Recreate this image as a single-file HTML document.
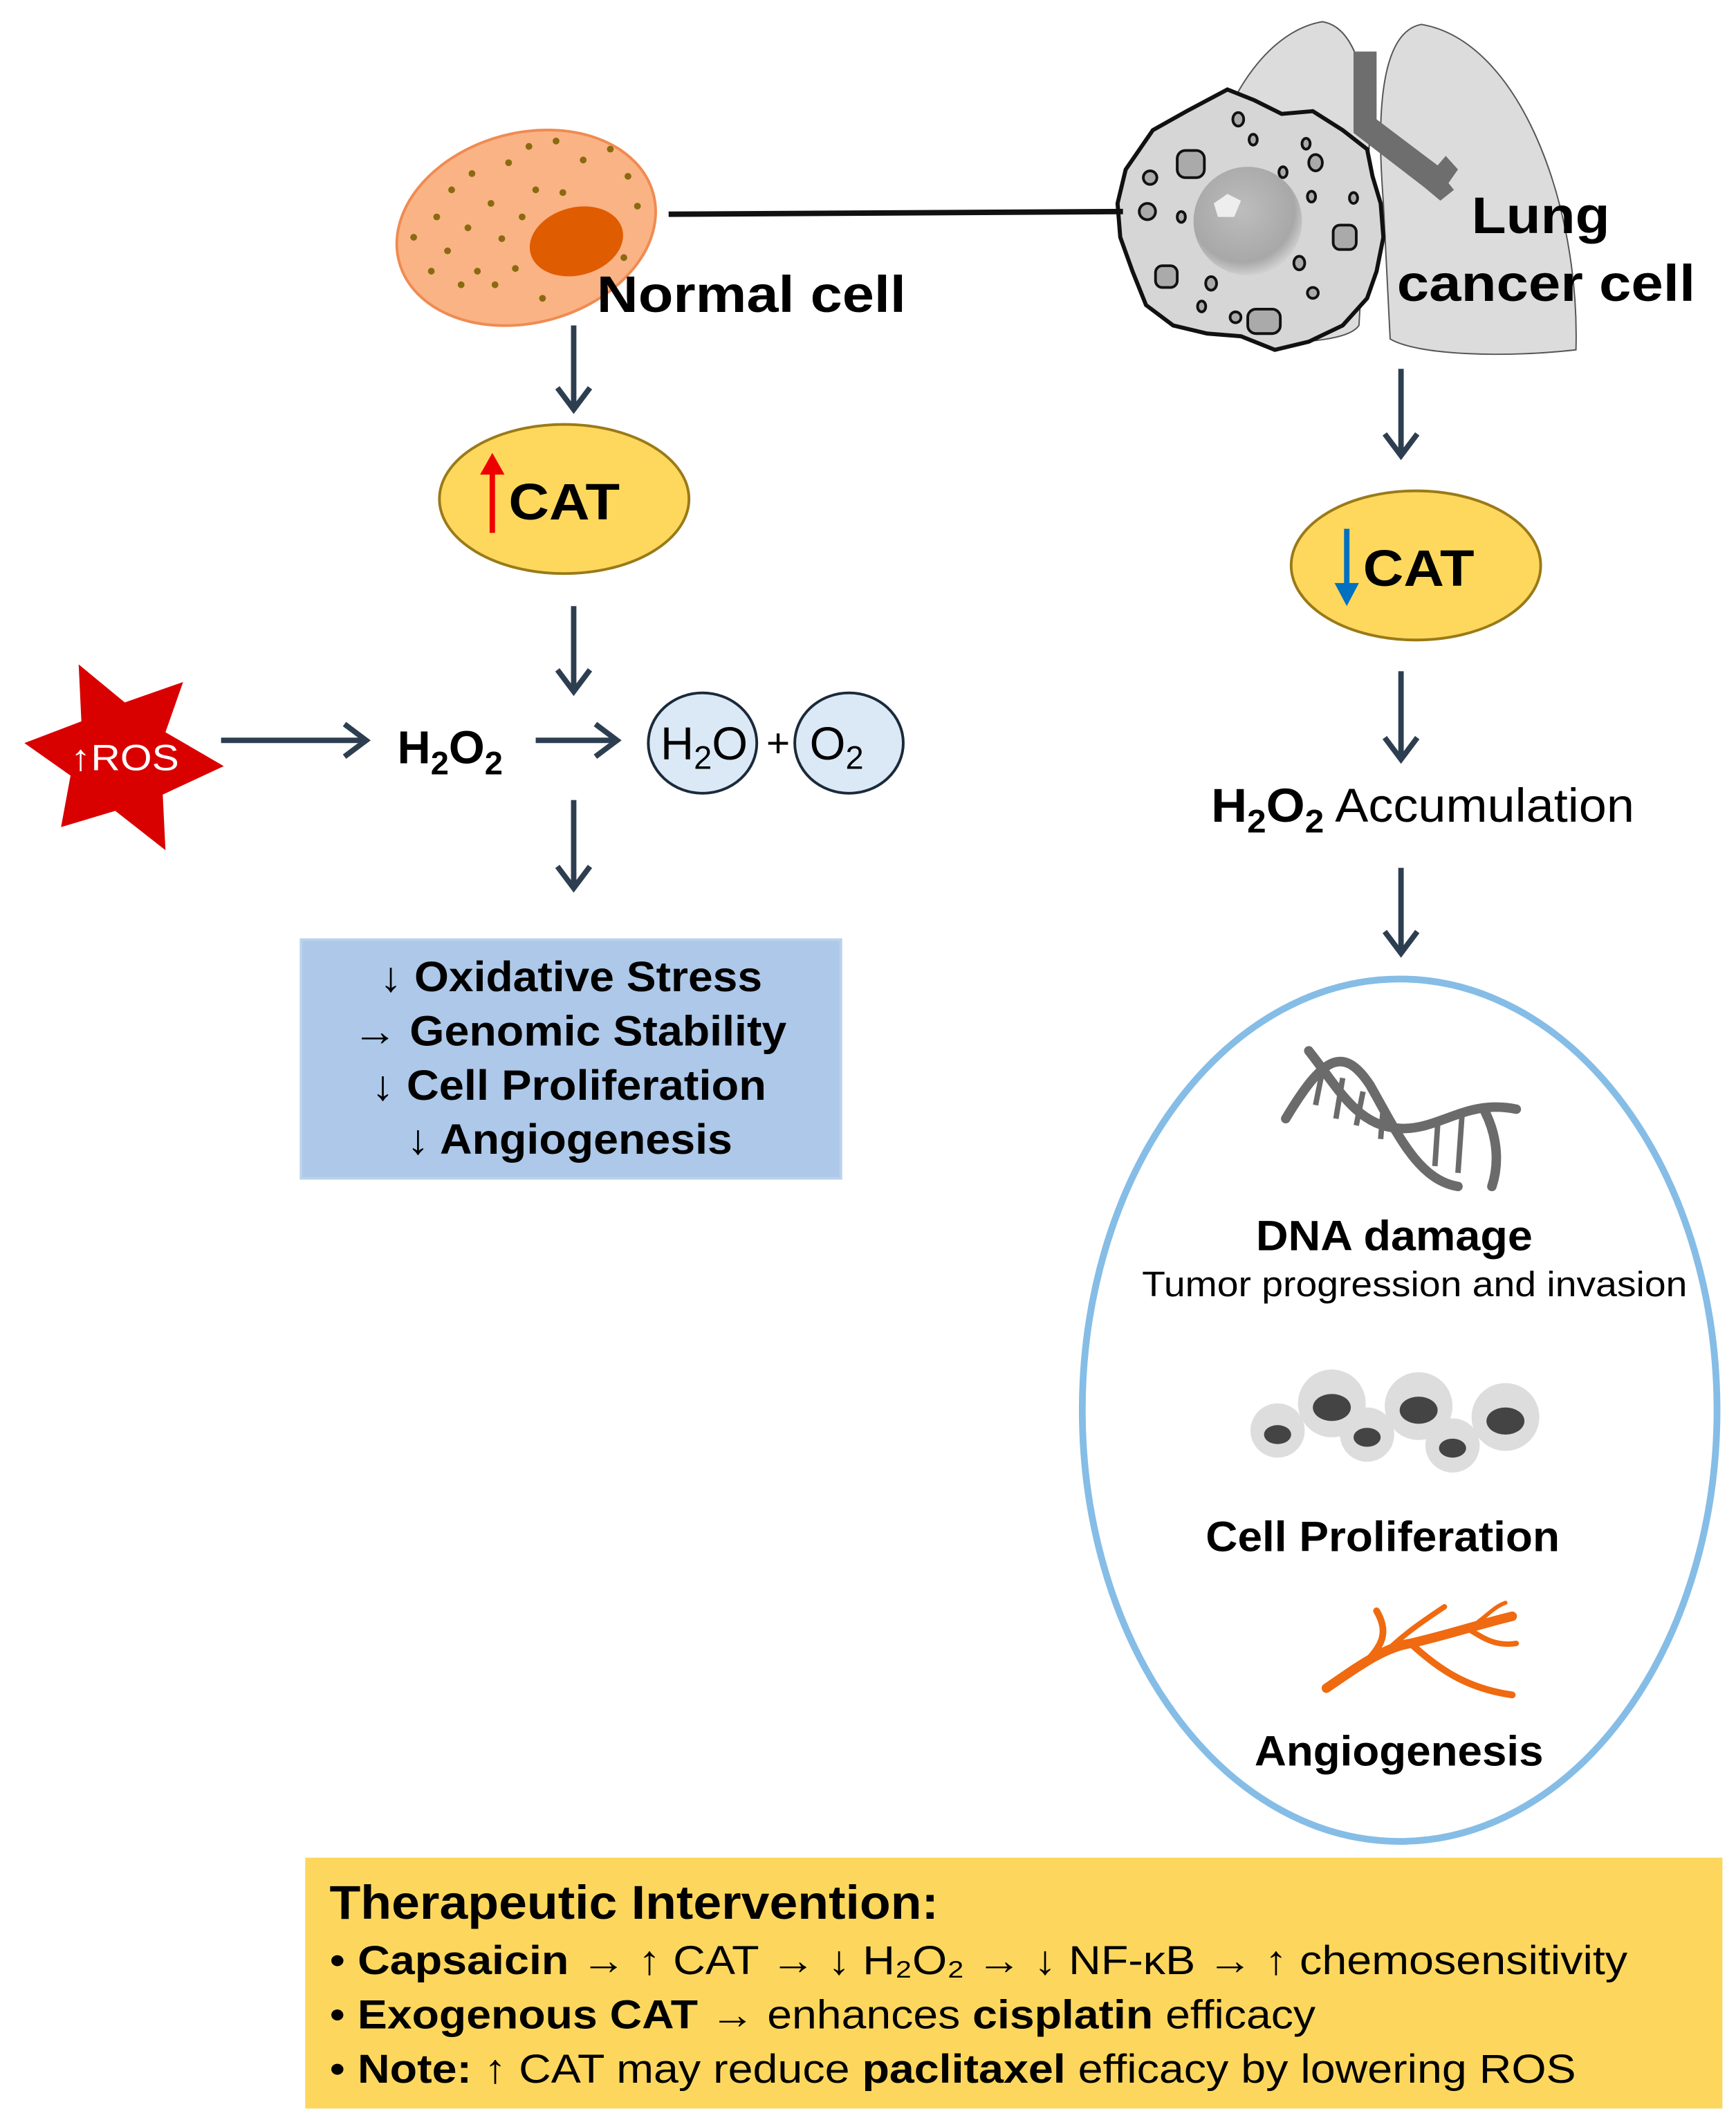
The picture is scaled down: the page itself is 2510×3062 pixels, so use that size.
<!DOCTYPE html>
<html><head><meta charset="utf-8"><style>
html,body{margin:0;padding:0;background:#fff}
svg{display:block}
text{font-family:"Liberation Sans",Arial,sans-serif}
</style></head><body>
<svg width="2510" height="3062" viewBox="0 0 1280 1562" preserveAspectRatio="none" xmlns="http://www.w3.org/2000/svg">
<defs>
<radialGradient id="nuc" cx="0.45" cy="0.4" r="0.6"><stop offset="0" stop-color="#bdbdbd"/><stop offset="0.8" stop-color="#a8a8a8"/><stop offset="1" stop-color="#cfcfcf"/></radialGradient>
</defs>
<g stroke="#2d3e50" stroke-width="4" fill="none">
<line x1="423" y1="240" x2="423" y2="302"/><path d="M411,286 L423,302 L435,286"/>
<line x1="423" y1="447" x2="423" y2="510"/><path d="M411,494 L423,510 L435,494"/>
<line x1="423" y1="590" x2="423" y2="655"/><path d="M411,639 L423,655 L435,639"/>
<line x1="163" y1="546" x2="268" y2="546"/><path d="M254,534 L270,546 L254,558"/>
<line x1="395" y1="546" x2="453" y2="546"/><path d="M439,534 L455,546 L439,558"/>
<line x1="1033" y1="272" x2="1033" y2="336"/><path d="M1021,320 L1033,336 L1045,320"/>
<line x1="1033" y1="495" x2="1033" y2="560"/><path d="M1021,544 L1033,560 L1045,544"/>
<line x1="1033" y1="640" x2="1033" y2="703"/><path d="M1021,687 L1033,703 L1045,687"/>
</g>
<!-- lungs -->
<path d="M975,16 C940,22 910,60 895,110 L875,235 C900,255 990,258 1002,240 L1010,100 C1008,60 1000,20 975,16Z" fill="#dcdcdc" stroke="#555" stroke-width="1"/>
<path d="M1048,18 C1010,25 1018,120 1020,150 L1025,250 C1045,262 1110,264 1162,258 C1165,150 1120,30 1048,18Z" fill="#dcdcdc" stroke="#555" stroke-width="1"/>
<path d="M998,38 L1015,38 L1015,88 L1060,122 L1066,115 L1075,125 L1068,135 L1072,140 L1062,148 L1050,138 L998,98Z" fill="#6e6e6e"/>
<!-- tumor -->
<path d="M850,96 L875,82 L905,66 L925,74 L945,84 L968,82 L990,96 L1008,110 L1012,130 L1018,150 L1020,175 L1015,200 L1008,220 L990,240 L965,252 L940,258 L915,248 L890,246 L865,240 L845,225 L835,200 L826,175 L824,150 L830,125 Z" fill="#d6d6d6" stroke="#111" stroke-width="3"/>
<ellipse cx="920" cy="163" rx="40" ry="40" fill="url(#nuc)"/>
<path d="M895,150 L905,143 L915,148 L910,160 L898,160Z" fill="#eee"/>
<g fill="#aaa" stroke="#111" stroke-width="2">
<rect x="868" y="111" width="20" height="20" rx="6"/><rect x="983" y="166" width="17" height="18" rx="5"/><rect x="920" y="228" width="24" height="18" rx="6"/><rect x="852" y="196" width="16" height="16" rx="5"/>
<ellipse cx="913" cy="88" rx="4" ry="5"/><ellipse cx="924" cy="103" rx="3" ry="4"/><ellipse cx="963" cy="106" rx="3" ry="4"/><ellipse cx="970" cy="120" rx="5" ry="6"/><ellipse cx="848" cy="131" rx="5" ry="5"/><ellipse cx="946" cy="127" rx="3" ry="4"/><ellipse cx="967" cy="145" rx="3" ry="4"/><ellipse cx="998" cy="146" rx="3" ry="4"/><ellipse cx="846" cy="156" rx="6" ry="6"/><ellipse cx="871" cy="160" rx="3" ry="4"/><ellipse cx="958" cy="194" rx="4" ry="5"/><ellipse cx="893" cy="209" rx="4" ry="5"/><ellipse cx="968" cy="216" rx="4" ry="4"/><ellipse cx="886" cy="226" rx="3" ry="4"/><ellipse cx="911" cy="234" rx="4" ry="4"/>
</g>
<line x1="493" y1="158" x2="828" y2="156" stroke="#111" stroke-width="4"/>
<text x="1085" y="172" font-size="38" font-weight="bold" textLength="102" lengthAdjust="spacingAndGlyphs">Lung</text>
<text x="1030" y="222" font-size="38" font-weight="bold" textLength="220" lengthAdjust="spacingAndGlyphs">cancer cell</text>
<!-- normal cell -->
<ellipse cx="388" cy="168" rx="97" ry="70" transform="rotate(-15 388 168)" fill="#fab384" stroke="#ef8b52" stroke-width="2"/>
<ellipse cx="425" cy="178" rx="35" ry="25" transform="rotate(-15 425 178)" fill="#e05c00"/>
<g fill="#8a6a10">
<circle cx="322" cy="160" r="2.5"/><circle cx="333" cy="140" r="2.5"/><circle cx="348" cy="128" r="2.5"/><circle cx="362" cy="150" r="2.5"/><circle cx="375" cy="120" r="2.5"/><circle cx="390" cy="108" r="2.5"/><circle cx="410" cy="104" r="2.5"/><circle cx="430" cy="118" r="2.5"/><circle cx="450" cy="110" r="2.5"/><circle cx="463" cy="130" r="2.5"/><circle cx="470" cy="152" r="2.5"/><circle cx="345" cy="168" r="2.5"/><circle cx="370" cy="176" r="2.5"/><circle cx="385" cy="160" r="2.5"/><circle cx="395" cy="140" r="2.5"/><circle cx="330" cy="185" r="2.5"/><circle cx="352" cy="200" r="2.5"/><circle cx="365" cy="210" r="2.5"/><circle cx="380" cy="198" r="2.5"/><circle cx="400" cy="220" r="2.5"/><circle cx="415" cy="142" r="2.5"/><circle cx="305" cy="175" r="2.5"/><circle cx="318" cy="200" r="2.5"/><circle cx="340" cy="210" r="2.5"/><circle cx="460" cy="190" r="2.5"/>
</g>
<text x="440" y="230" font-size="38" font-weight="bold" textLength="228" lengthAdjust="spacingAndGlyphs">Normal cell</text>
<!-- CAT up -->
<ellipse cx="416" cy="368" rx="92" ry="55" fill="#fdd85d" stroke="#9a7a18" stroke-width="2"/>
<line x1="363" y1="393" x2="363" y2="345" stroke="#e00" stroke-width="4"/><path d="M354,350 L363,334 L372,350Z" fill="#e00"/>
<text x="375" y="383" font-size="38" font-weight="bold" textLength="82" lengthAdjust="spacingAndGlyphs">CAT</text>
<!-- CAT down -->
<ellipse cx="1044" cy="417" rx="92" ry="55" fill="#fdd85d" stroke="#9a7a18" stroke-width="2"/>
<line x1="993" y1="390" x2="993" y2="435" stroke="#0070c0" stroke-width="4"/><path d="M984,430 L993,447 L1002,430Z" fill="#0070c0"/>
<text x="1005" y="432" font-size="38" font-weight="bold" textLength="82" lengthAdjust="spacingAndGlyphs">CAT</text>
<!-- ROS star -->
<polygon points="135,503 122,540 165,565 120,586 122,627 85,598 45,610 52,572 18,548 60,532 58,490 92,518" fill="#d90000"/>
<text x="52" y="568" font-size="27" fill="#fff" textLength="80" lengthAdjust="spacingAndGlyphs">↑ROS</text>
<text x="293" y="563" font-size="34" font-weight="bold">H<tspan font-size="24" dy="8">2</tspan><tspan dy="-8">O</tspan><tspan font-size="24" dy="8">2</tspan></text>
<ellipse cx="518" cy="548" rx="40" ry="37" fill="#dbe9f6" stroke="#1a2a3a" stroke-width="2"/>
<ellipse cx="626" cy="548" rx="40" ry="37" fill="#dbe9f6" stroke="#1a2a3a" stroke-width="2"/>
<text x="487" y="560" font-size="34">H<tspan font-size="24" dy="7">2</tspan><tspan dy="-7">O</tspan></text>
<text x="565" y="558" font-size="30">+</text>
<text x="597" y="560" font-size="34">O<tspan font-size="24" dy="7">2</tspan></text>
<!-- blue box -->
<rect x="222" y="693" width="398" height="176" fill="#adc8e8" stroke="#bcd2ec" stroke-width="2"/>
<g font-size="31" font-weight="bold">
<text x="280" y="731" textLength="282" lengthAdjust="spacingAndGlyphs">↓ Oxidative Stress</text>
<text x="260" y="771" textLength="320" lengthAdjust="spacingAndGlyphs">→ Genomic Stability</text>
<text x="274" y="811" textLength="291" lengthAdjust="spacingAndGlyphs">↓ Cell Proliferation</text>
<text x="300" y="851" textLength="240" lengthAdjust="spacingAndGlyphs">↓ Angiogenesis</text>
</g>
<!-- right -->
<text x="893" y="606" font-size="35" textLength="312" lengthAdjust="spacingAndGlyphs"><tspan font-weight="bold">H<tspan font-size="24" dy="8">2</tspan><tspan dy="-8">O</tspan><tspan font-size="24" dy="8">2</tspan></tspan><tspan dy="-8"> Accumulation</tspan></text>
<ellipse cx="1032" cy="1040" rx="234" ry="318" fill="none" stroke="#85bde6" stroke-width="5"/>
<!-- DNA -->
<g stroke="#6b6b6b" stroke-width="7" fill="none" stroke-linecap="round">
<path d="M948,825 C975,780 990,770 1010,800 C1030,835 1045,870 1075,875"/>
<path d="M965,775 C985,800 1000,830 1030,832 C1060,835 1080,810 1118,818"/>
<path d="M1095,820 C1105,840 1105,860 1100,875"/>
</g>
<g stroke="#6b6b6b" stroke-width="4"><line x1="975" y1="790" x2="970" y2="815"/><line x1="990" y1="795" x2="985" y2="825"/><line x1="1005" y1="805" x2="1000" y2="830"/><line x1="1020" y1="815" x2="1018" y2="840"/><line x1="1060" y1="830" x2="1058" y2="860"/><line x1="1078" y1="822" x2="1075" y2="865"/></g>
<text x="926" y="922" font-size="31" font-weight="bold" textLength="204" lengthAdjust="spacingAndGlyphs">DNA damage</text>
<text x="842" y="956" font-size="26" textLength="402" lengthAdjust="spacingAndGlyphs">Tumor progression and invasion</text>
<!-- cells -->
<g>
<circle cx="942" cy="1055" r="20" fill="#ddd"/><ellipse cx="942" cy="1058" rx="10" ry="7" fill="#444"/>
<circle cx="982" cy="1035" r="25" fill="#ddd"/><ellipse cx="982" cy="1038" rx="14" ry="10" fill="#444"/>
<circle cx="1008" cy="1058" r="20" fill="#ddd"/><ellipse cx="1008" cy="1060" rx="10" ry="7" fill="#444"/>
<circle cx="1046" cy="1037" r="25" fill="#ddd"/><ellipse cx="1046" cy="1040" rx="14" ry="10" fill="#444"/>
<circle cx="1071" cy="1066" r="20" fill="#ddd"/><ellipse cx="1071" cy="1068" rx="10" ry="7" fill="#444"/>
<circle cx="1110" cy="1045" r="25" fill="#ddd"/><ellipse cx="1110" cy="1048" rx="14" ry="10" fill="#444"/>
</g>
<text x="889" y="1144" font-size="31" font-weight="bold" textLength="261" lengthAdjust="spacingAndGlyphs">Cell Proliferation</text>
<!-- angiogenesis -->
<g stroke="#ef6a10" fill="none" stroke-linecap="round">
<path d="M978,1245 C1000,1230 1020,1215 1040,1212 C1070,1205 1090,1198 1115,1192" stroke-width="7"/>
<path d="M1040,1212 C1060,1230 1080,1245 1115,1250" stroke-width="5"/>
<path d="M1005,1228 C1018,1215 1025,1205 1015,1188" stroke-width="5"/>
<path d="M1020,1220 C1035,1205 1050,1195 1065,1185" stroke-width="4"/>
<path d="M1080,1200 C1090,1205 1100,1215 1118,1212" stroke-width="4"/>
<path d="M1090,1196 C1098,1190 1102,1185 1110,1182" stroke-width="3"/>
</g>
<text x="925" y="1302" font-size="31" font-weight="bold" textLength="213" lengthAdjust="spacingAndGlyphs">Angiogenesis</text>
<!-- bottom box -->
<rect x="225" y="1370" width="1045" height="185" fill="#fdd75d"/>
<text x="243" y="1415" font-size="35" font-weight="bold" textLength="449" lengthAdjust="spacingAndGlyphs">Therapeutic Intervention:</text>
<g font-size="30">
<text x="243" y="1456" textLength="957" lengthAdjust="spacingAndGlyphs">• <tspan font-weight="bold">Capsaicin</tspan> → ↑ CAT → ↓ H₂O₂ → ↓ NF-κB → ↑ chemosensitivity</text>
<text x="243" y="1496" textLength="727" lengthAdjust="spacingAndGlyphs">• <tspan font-weight="bold">Exogenous CAT</tspan> → enhances <tspan font-weight="bold">cisplatin</tspan> efficacy</text>
<text x="243" y="1536" textLength="919" lengthAdjust="spacingAndGlyphs">• <tspan font-weight="bold">Note:</tspan> ↑ CAT may reduce <tspan font-weight="bold">paclitaxel</tspan> efficacy by lowering ROS</text>
</g>
</svg>
</body></html>
